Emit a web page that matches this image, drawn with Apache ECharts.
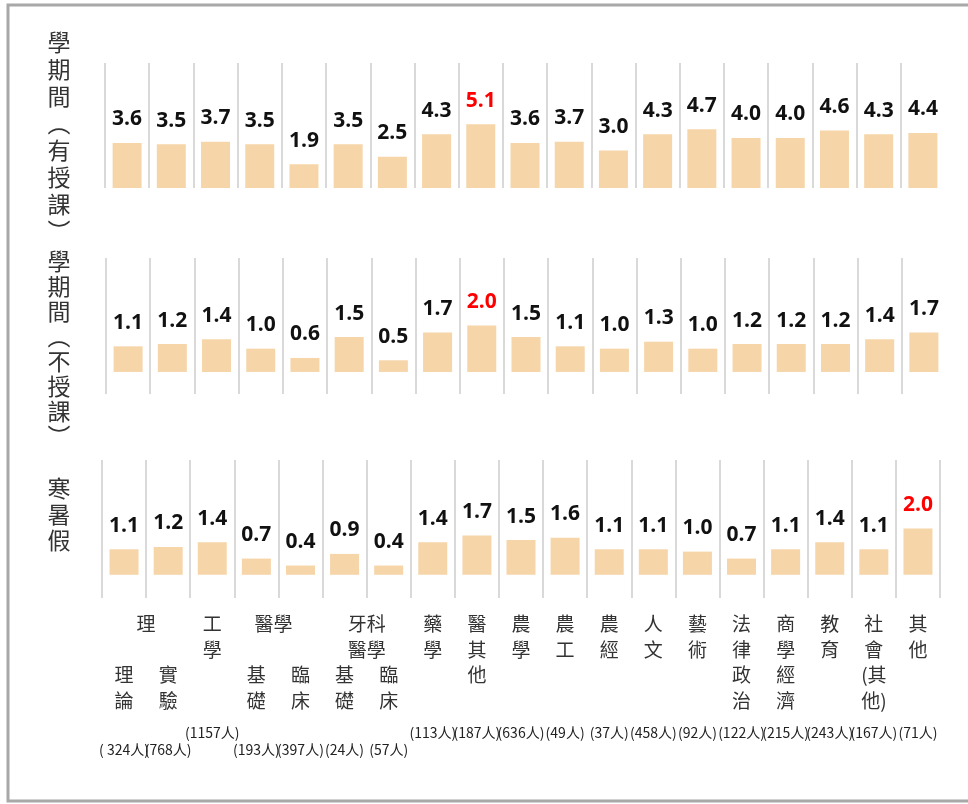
<!DOCTYPE html>
<html><head><meta charset="utf-8">
<script src="https://cdn.jsdelivr.net/npm/echarts@6/dist/echarts.min.js"></script>
<style>html,body{margin:0;padding:0;background:#fff}#c{width:968px;height:804px}</style>
</head><body><div id="c"></div>
<script>
// ---------- data ----------
const categories = ['理論','實驗','工學','醫學基礎','醫學臨床','牙科醫學基礎','牙科醫學臨床','藥學','醫其他','農學','農工','農經','人文','藝術','法律政治','商學經濟','教育','社會(其他)','其他'];
const axisNames = [['理','論'],['實','驗'],['工','學'],['基','礎'],['臨','床'],['基','礎'],['臨','床'],['藥','學'],['醫','其','他'],['農','學'],['農','工'],['農','經'],['人','文'],['藝','術'],['法','律','政','治'],['商','學','經','濟'],['教','育'],['社','會','(其','他)'],['其','他']];
const groups = [
  {label:['理'], from:0, to:1},
  {label:['醫學'], from:3, to:4},
  {label:['牙科','醫學'], from:5, to:6}
];
const counts = ['( 324人)','(768人)','(1157人)','(193人)','(397人)','(24人)','(57人)','(113人)','(187人)','(636人)','(49人)','(37人)','(458人)','(92人)','(122人)','(215人)','(243人)','(167人)','(71人)'];
const rowTitles = ['學期間（有授課）','學期間（不授課）','寒暑假'];
const semesterTeaching = [3.6,3.5,3.7,3.5,1.9,3.5,2.5,4.3,5.1,3.6,3.7,3.0,4.3,4.7,4.0,4.0,4.6,4.3,4.4];
const semesterNoTeaching = [1.1,1.2,1.4,1.0,0.6,1.5,0.5,1.7,2.0,1.5,1.1,1.0,1.3,1.0,1.2,1.2,1.2,1.4,1.7];
const vacation = [1.1,1.2,1.4,0.7,0.4,0.9,0.4,1.4,1.7,1.5,1.6,1.1,1.1,1.0,0.7,1.1,1.4,1.1,2.0];
const rows = [semesterTeaching, semesterNoTeaching, vacation];

// ---------- layout / style ----------
const grids = [
  {left:105, top:63, width:840, height:125},
  {left:106, top:258, width:840, height:136},
  {left:102, top:460, width:838, height:138}
];
const yRanges = [[0,10],[-0.95,4.9],[-1,4.95]];
const titleLayout = [{cy:137, lh:27},{cy:349, lh:25},{cy:514, lh:26}];
const BAR = '#F6D5A9', LINE = '#D9D9D9';
const inGroup = i => groups.some(g => i >= g.from && i <= g.to);

const xAxes = grids.map((g, k) => ({
  type:'category', gridIndex:k, data:categories, boundaryGap:true,
  axisLine:{show:false}, axisTick:{show:false},
  axisLabel: k === 2 ? {
    show:true, interval:0, margin:13.5, color:'#333', fontSize:19, lineHeight:25.5,
    fontFamily:'Noto Sans CJK TC',
    formatter:(v, i) => (inGroup(i) ? '\n\n' : '') + axisNames[i].join('\n')
  } : {show:false, interval:0},
  splitLine:{show:true, interval:0, showMinLine:true, showMaxLine:k === 2, lineStyle:{color:LINE, width:2}}
}));
xAxes.push({
  type:'category', gridIndex:2, data:categories, position:'bottom',
  axisLine:{show:false}, axisTick:{show:false}, splitLine:{show:false},
  axisLabel:{show:true, interval:0, margin:126.5, color:'#222', fontSize:14, lineHeight:17,
    fontFamily:'Noto Sans CJK TC',
    formatter:(v, i) => (inGroup(i) ? '\n' : '') + counts[i]}
});

const yAxes = grids.map((g, k) => ({type:'value', gridIndex:k, min:yRanges[k][0], max:yRanges[k][1], show:false}));

const series = rows.map((vals, k) => {
  const mx = Math.max(...vals);
  return {
    type:'bar', xAxisIndex:k, yAxisIndex:k, barWidth:29, animation:false,
    itemStyle:{color:BAR},
    label:{show:true, position:'top', distance:13, fontSize:21, fontWeight:'bold',
      fontFamily:'Open Sans', color:'#111', formatter:p => p.value.toFixed(1)},
    data: vals.map(v => v === mx ? {value:v, label:{color:'#FF0000'}} : v)
  };
});

const chart = echarts.init(document.getElementById('c'), null, {renderer:'canvas'});
chart.setOption({animation:false, grid:grids, xAxis:xAxes, yAxis:yAxes, series:series});

// ---------- texts ----------
const vert = s => s.replace('（','︵').replace('）','︶').split('').join('\n');
const graphics = [{
  type:'rect', shape:{x:8, y:5, width:1000, height:796},
  style:{fill:'none', stroke:'#A8A8A8', lineWidth:3}, silent:true
}];
rowTitles.forEach((t, k) => graphics.push({
  type:'text', x:59, y:titleLayout[k].cy,
  style:{text:vert(t), fontSize:23, lineHeight:titleLayout[k].lh, fill:'#333',
    fontFamily:'Noto Sans CJK TC', align:'center', verticalAlign:'middle'}
}));
groups.forEach(g => {
  const x0 = chart.convertToPixel({xAxisIndex:2}, g.from);
  const x1 = chart.convertToPixel({xAxisIndex:2}, g.to);
  graphics.push({
    type:'text', x:(x0 + x1) / 2 - (g.label.length === 1 && g.label[0].length === 2 ? 5 : 0), y:611.5,
    style:{text:g.label.join('\n'), fontSize:19, lineHeight:25.5, fill:'#333',
      fontFamily:'Noto Sans CJK TC', align:'center', verticalAlign:'top'}
  });
});
chart.setOption({graphic:graphics});
</script></body></html>
